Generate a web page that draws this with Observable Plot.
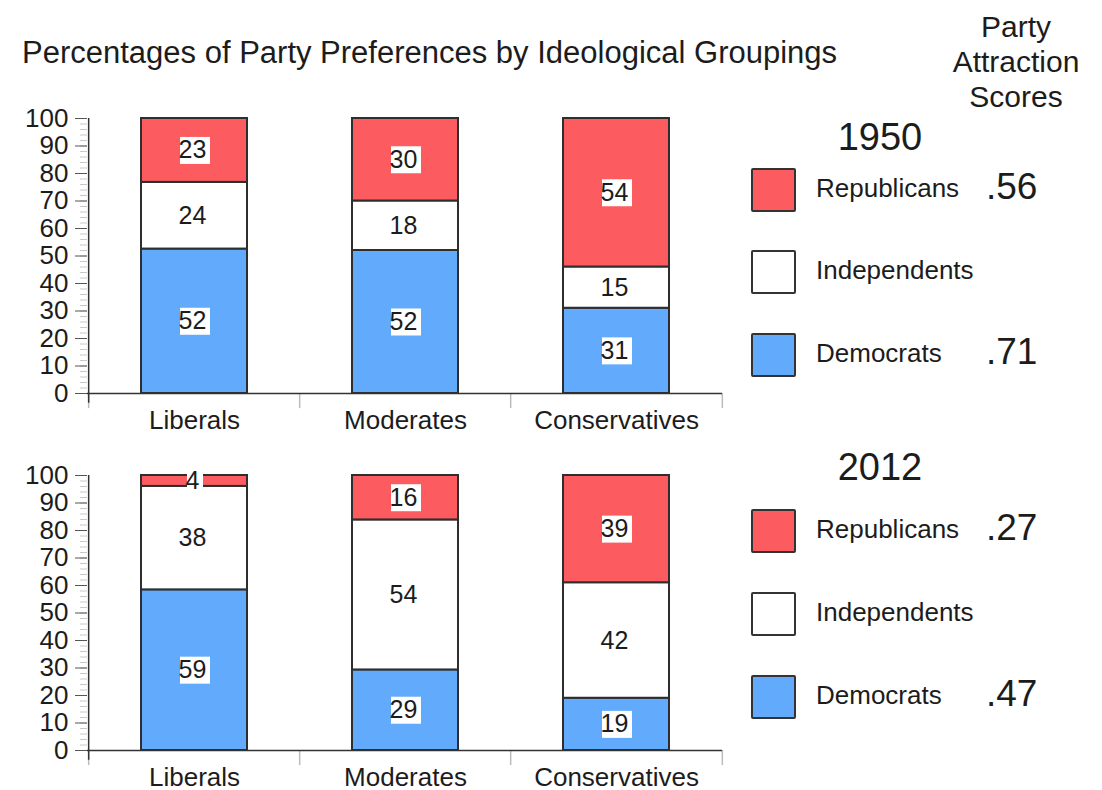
<!DOCTYPE html>
<html><head><meta charset="utf-8">
<script src="https://cdn.jsdelivr.net/npm/d3@7"></script>
<script src="https://cdn.jsdelivr.net/npm/@observablehq/plot@0.6"></script>
<style>
body{margin:0;background:#fff;font-family:"Liberation Sans",Arial,Helvetica,sans-serif;color:#1c1c1c;overflow:hidden;}
#page{position:relative;width:1102px;height:790px;}
.abs{position:absolute;}
#title{left:22px;top:35px;font-size:31px;white-space:nowrap;}
#pas{left:946px;width:140px;top:9px;font-size:30px;line-height:35px;text-align:center;}
.year{font-size:38px;width:140px;text-align:center;line-height:40px;}
.row{left:751px;height:44px;width:340px;}
.sw{position:absolute;left:0;top:0;width:41px;height:40px;border:2px solid #333;border-radius:2px;}
.lab{position:absolute;left:65px;top:0;line-height:40px;font-size:26px;}
.score{position:absolute;left:235px;top:0;line-height:38px;font-size:37px;}
.chart{left:0;}
</style></head>
<body><div id="page"></div>
<script>
const groups = ["Liberals", "Moderates", "Conservatives"];
const parties = ["Democrats", "Independents", "Republicans"];
const partyColors = ["#62aafc", "#ffffff", "#fc5c60"];
const years = ["1950", "2012"];
const dem1950 = [52, 52, 31];
const ind1950 = [24, 18, 15];
const rep1950 = [23, 30, 54];
const dem2012 = [59, 29, 19];
const ind2012 = [38, 54, 42];
const rep2012 = [4, 16, 39];
const legendOrder = ["Republicans", "Independents", "Democrats"];
const scores1950 = [".56", "", ".71"];
const scores2012 = [".27", "", ".47"];
const titleText = "Percentages of Party Preferences by Ideological Groupings";
const scoresHeader = ["Party", "Attraction", "Scores"];

const page = document.getElementById("page");
const font = '"Liberation Sans", Arial, Helvetica, sans-serif';

function el(tag, cls, css, html) {
  const e = document.createElement(tag);
  if (cls) e.className = cls;
  Object.assign(e.style, css || {});
  if (html != null) e.innerHTML = html;
  return e;
}

page.appendChild(el("div", "abs", {}, titleText)).id = "title";
page.appendChild(el("div", "abs", {}, scoresHeader.join("<br>"))).id = "pas";

function chart(dem, ind, rep) {
  const vals = [dem, ind, rep];
  const data = [];
  parties.forEach((p, pi) => groups.forEach((g, gi) => data.push({group: g, party: p, value: vals[pi][gi]})));
  const W = 740, ML = 87, MR = 18;
  const step = (W - ML - MR) / groups.length;
  const st = {x: "group", y: "value", z: "party", offset: "normalize"};
  return Plot.plot({
    width: W, height: 333,
    marginLeft: ML, marginRight: MR, marginTop: 18, marginBottom: 40,
    style: {fontFamily: font, fontSize: "26px", color: "#1c1c1c", background: "transparent", overflow: "visible"},
    x: {domain: groups, paddingInner: 0.5, paddingOuter: 0.25},
    y: {domain: [0, 1]},
    color: {domain: parties, range: partyColors},
    marks: [
      Plot.barY(data, Plot.stackY({...st, fill: "party", stroke: "#2e2e2e", strokeWidth: 2})),
      Plot.tickY(data, Plot.stackY({...st, stroke: "white", strokeWidth: 27, insetLeft: 39, insetRight: 37,
        strokeOpacity: d => (String(d.value).length > 1 ? 1 : 0)})),
      Plot.tickY(data, Plot.stackY({...st, stroke: "white", strokeWidth: 27, insetLeft: 46, insetRight: 44,
        strokeOpacity: d => (String(d.value).length > 1 ? 0 : 1)})),
      Plot.text(data, Plot.stackY({...st, text: "value", dx: -2, fill: "#1c1c1c", fontSize: 25})),
      Plot.axisY(d3.ticks(0, 1, 50), {tickSize: 7, tickFormat: () => "", stroke: "#c8c8c8", label: null}),
      Plot.axisY(d3.ticks(0, 1, 10), {tickSize: 12, tickPadding: 7, tickFormat: d => Math.round(d * 100), stroke: "#555", label: null, fontSize: 26}),
      Plot.axisX({tickSize: 0, tickPadding: 17, label: null, fontSize: 26}),
      Plot.ruleX(groups, {x: d => d, dx: -step / 2, y1: 0, y2: -0.055, stroke: "#bbb", strokeWidth: 1.5}),
      Plot.ruleX([groups[groups.length - 1]], {x: d => d, dx: step / 2, y1: 0, y2: -0.055, stroke: "#bbb", strokeWidth: 1.5}),
      Plot.ruleX([groups[0]], {x: d => d, dx: -step / 2, y1: -0.035, y2: 1, stroke: "#333", strokeWidth: 1.5}),
      Plot.ruleY([0], {stroke: "#333", strokeWidth: 1.5})
    ]
  });
}

function legend(year, yearCenter, rowTops, scores) {
  page.appendChild(el("div", "abs year", {left: "810px", top: (yearCenter - 20) + "px"}, year));
  legendOrder.forEach((p, i) => {
    const row = el("div", "abs row", {top: rowTops[i] + "px"});
    row.appendChild(el("div", "sw", {background: partyColors[parties.indexOf(p)]}));
    row.appendChild(el("div", "lab", {}, p));
    if (scores[i]) row.appendChild(el("div", "score", {}, scores[i]));
    page.appendChild(row);
  });
}

const c1 = chart(dem1950, ind1950, rep1950);
c1.classList.add("abs", "chart"); c1.style.top = "100px"; c1.style.position = "absolute";
page.appendChild(c1);
const c2 = chart(dem2012, ind2012, rep2012);
c2.classList.add("abs", "chart"); c2.style.top = "457px"; c2.style.position = "absolute";
page.appendChild(c2);

legend(years[0], 137, [168, 250, 333], scores1950);
legend(years[1], 467, [509, 592, 675], scores2012);
</script>
</body></html>
